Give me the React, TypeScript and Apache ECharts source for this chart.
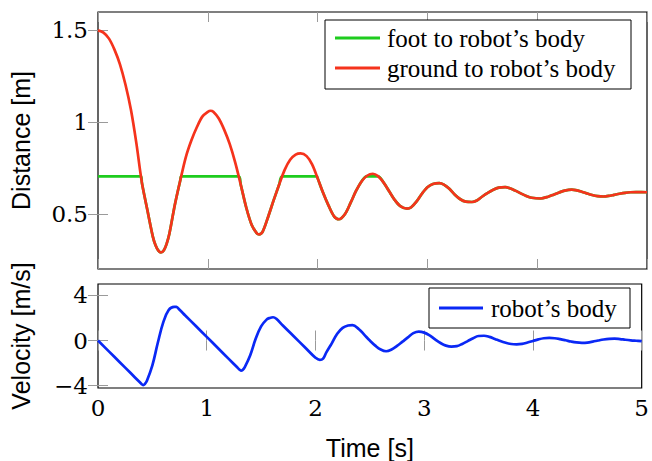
import React, { useEffect, useRef } from "react";
import * as echarts from "echarts";

const timeTicks = [0, 1, 2, 3, 4, 5];
const distanceTicks = [0.5, 1, 1.5];
const velocityTicks = [-4, 0, 4];

const groundTimes = [
  0, 0.05, 0.1, 0.15, 0.2, 0.25, 0.3, 0.35, 0.4, 0.45,
  0.5, 0.525, 0.55, 0.573, 0.6, 0.625, 0.65, 0.7, 0.75, 0.8, 0.85, 0.9, 0.95,
  1.0, 1.025, 1.05, 1.1, 1.15, 1.2, 1.25, 1.3, 1.35, 1.4, 1.45, 1.467,
  1.5, 1.55, 1.6, 1.65, 1.7, 1.75, 1.8, 1.845, 1.9, 1.95,
  2.0, 2.05, 2.1, 2.15, 2.194, 2.25, 2.3, 2.35, 2.4, 2.45,
  2.503, 2.55, 2.6, 2.65, 2.7, 2.75, 2.815, 2.85, 2.9, 2.95,
  3.0, 3.05, 3.109, 3.15, 3.2, 3.25, 3.3, 3.35, 3.406, 3.45,
  3.5, 3.55, 3.6, 3.65, 3.709, 3.75, 3.8, 3.85, 3.9, 3.95,
  4.03, 4.1, 4.15, 4.2, 4.25, 4.315, 4.35, 4.4, 4.45,
  4.5, 4.55, 4.603, 4.65, 4.7, 4.75, 4.8, 4.85, 4.9, 4.95, 5.0,
];
const groundValues = [
  1.5, 1.488, 1.455, 1.395, 1.315, 1.205, 1.067, 0.883, 0.669, 0.52,
  0.375, 0.328, 0.3, 0.29, 0.302, 0.337, 0.392, 0.55, 0.685, 0.81, 0.9, 0.972, 1.03,
  1.056, 1.062, 1.057, 1.02, 0.958, 0.88, 0.78, 0.66, 0.535, 0.44, 0.392, 0.389,
  0.404, 0.485, 0.575, 0.66, 0.74, 0.795, 0.823, 0.83, 0.815, 0.77,
  0.695, 0.615, 0.545, 0.487, 0.471, 0.5, 0.56, 0.625, 0.677, 0.708,
  0.719, 0.706, 0.672, 0.625, 0.578, 0.544, 0.529, 0.535, 0.567, 0.61,
  0.645, 0.663, 0.668, 0.66, 0.637, 0.605, 0.58, 0.567, 0.565, 0.573,
  0.595, 0.615, 0.632, 0.643, 0.646, 0.64, 0.627, 0.612, 0.598, 0.588,
  0.584, 0.594, 0.605, 0.617, 0.627, 0.632, 0.63, 0.622, 0.612,
  0.603, 0.597, 0.595, 0.598, 0.604, 0.61, 0.615, 0.618, 0.619, 0.619, 0.618,
];

const footTimes = [
  0, 0.392, 0.4, 0.45, 0.5, 0.525, 0.55, 0.573, 0.6, 0.625, 0.65, 0.7, 0.75, 0.758,
  1.281, 1.3, 1.35, 1.4, 1.45, 1.467, 1.5, 1.55, 1.6, 1.65, 1.678,
  1.993, 2.0, 2.05, 2.1, 2.15, 2.194, 2.25, 2.3, 2.35, 2.4, 2.445,
  2.551, 2.6, 2.65, 2.7, 2.75, 2.815, 2.85, 2.9, 2.95,
  3.0, 3.05, 3.109, 3.15, 3.2, 3.25, 3.3, 3.35, 3.406, 3.45,
  3.5, 3.55, 3.6, 3.65, 3.709, 3.75, 3.8, 3.85, 3.9, 3.95,
  4.03, 4.1, 4.15, 4.2, 4.25, 4.315, 4.35, 4.4, 4.45,
  4.5, 4.55, 4.603, 4.65, 4.7, 4.75, 4.8, 4.85, 4.9, 4.95, 5.0,
];
const footValues = [
  0.705, 0.705, 0.669, 0.52, 0.375, 0.328, 0.3, 0.29, 0.302, 0.337, 0.392, 0.55, 0.685, 0.705,
  0.705, 0.66, 0.535, 0.44, 0.392, 0.389, 0.404, 0.485, 0.575, 0.66, 0.705,
  0.705, 0.695, 0.615, 0.545, 0.487, 0.471, 0.5, 0.56, 0.625, 0.677, 0.705,
  0.705, 0.672, 0.625, 0.578, 0.544, 0.529, 0.535, 0.567, 0.61,
  0.645, 0.663, 0.668, 0.66, 0.637, 0.605, 0.58, 0.567, 0.565, 0.573,
  0.595, 0.615, 0.632, 0.643, 0.646, 0.64, 0.627, 0.612, 0.598, 0.588,
  0.584, 0.594, 0.605, 0.617, 0.627, 0.632, 0.63, 0.622, 0.612,
  0.603, 0.597, 0.595, 0.598, 0.604, 0.61, 0.615, 0.618, 0.619, 0.619, 0.618,
];

const velocityTimes = [
  0, 0.1, 0.2, 0.3, 0.38, 0.4, 0.415, 0.43, 0.45, 0.5, 0.55, 0.6, 0.65, 0.7, 0.72, 0.75,
  0.8, 0.9, 1.0, 1.1, 1.2, 1.28, 1.3, 1.315, 1.33, 1.35, 1.4, 1.45, 1.5, 1.55, 1.58, 1.61, 1.64,
  1.7, 1.8, 1.9, 2.0, 2.04, 2.07, 2.1, 2.15, 2.2, 2.25, 2.3, 2.34,
  2.4, 2.45, 2.5, 2.55, 2.6, 2.65, 2.7, 2.75, 2.8, 2.85, 2.9, 2.95,
  3.0, 3.05, 3.1, 3.15, 3.2, 3.25, 3.3, 3.35, 3.4, 3.45,
  3.5, 3.55, 3.6, 3.65, 3.7, 3.75, 3.8, 3.85, 3.9, 3.95,
  4.0, 4.05, 4.1, 4.15, 4.2, 4.25, 4.3, 4.35, 4.4, 4.45,
  4.5, 4.55, 4.6, 4.65, 4.7, 4.75, 4.8, 4.85, 4.9, 4.95, 5.0,
];
const velocityValues = [
  0, -0.96, -1.92, -2.88, -3.65, -3.84, -3.94, -3.85, -3.55, -2.2, -0.2, 1.6, 2.7, 2.98, 2.97, 2.72,
  2.24, 1.28, 0.32, -0.64, -1.6, -2.37, -2.56, -2.66, -2.6, -2.35, -1.3, 0.15, 1.25, 1.85, 2.0, 2.06, 1.92,
  1.33, 0.38, -0.57, -1.52, -1.72, -1.6, -1.05, -0.25, 0.6, 1.12, 1.33, 1.37,
  1.0, 0.5, 0.0, -0.45, -0.8, -0.95, -0.8, -0.48, -0.1, 0.28, 0.65, 0.79,
  0.7, 0.45, 0.1, -0.22, -0.45, -0.54, -0.5, -0.3, -0.05, 0.2,
  0.4, 0.42, 0.32, 0.14, -0.05, -0.2, -0.31, -0.34, -0.3, -0.18,
  -0.04, 0.1, 0.2, 0.23, 0.2, 0.12, 0.02, -0.09, -0.17, -0.2,
  -0.18, -0.1, 0.0, 0.09, 0.15, 0.17, 0.13, 0.07, 0.02, -0.02, -0.06,
];

const footName = "foot to robot\u2019s body";
const groundName = "ground to robot\u2019s body";
const velocityName = "robot\u2019s body";

const zip = (xs: number[], ys: number[]) => xs.map((x, i) => [x, ys[i]]);

const SERIF = "'Liberation Serif', 'DejaVu Serif', serif";
const TICKFONT = "'DejaVu Serif', serif";
const SANS = "'Liberation Sans', 'DejaVu Sans', sans-serif";
const TICK = { show: true, inside: true, length: 10, lineStyle: { color: "#9a9a9a", width: 1 } };

const GREEN = "#1ecc1e";
const RED = "#f5331c";
const BLUE = "#0a28f5";

function xAxisPair(grid: number, labels: boolean) {
  const base = {
    type: "value",
    gridIndex: grid,
    min: 0,
    max: 5,
    interval: 1,
    axisLine: { show: false },
    splitLine: { show: false },
    axisTick: { ...TICK, customValues: timeTicks },
  };
  return [
    {
      ...base,
      position: "bottom",
      axisLabel: labels
        ? { show: true, customValues: timeTicks, fontFamily: TICKFONT, fontSize: 23, color: "#000", margin: 8 }
        : { show: false },
      ...(labels
        ? {
            name: "Time [s]",
            nameLocation: "middle",
            nameGap: 47,
            nameTextStyle: { fontFamily: SANS, fontSize: 25, color: "#000" },
          }
        : {}),
    },
    { ...base, position: "top", axisLabel: { show: false } },
  ];
}

function yAxisPair(grid: number, min: number, max: number, ticks: number[], name: string) {
  const base = {
    type: "value",
    gridIndex: grid,
    min,
    max,
    axisLine: { show: false },
    splitLine: { show: false },
    axisTick: { ...TICK, customValues: ticks },
  };
  return [
    {
      ...base,
      position: "left",
      axisLabel: {
        show: true,
        customValues: ticks,
        fontFamily: TICKFONT,
        fontSize: 23,
        color: "#000",
        margin: 10,
        formatter: (v: number) => (v < 0 ? "\u2212" + Math.abs(v) : String(v)),
      },
      name,
      nameLocation: "middle",
      nameGap: 65,
      nameTextStyle: { fontFamily: SANS, fontSize: 25, color: "#000" },
    },
    { ...base, position: "right", axisLabel: { show: false } },
  ];
}

export default function App() {
  const ref = useRef<HTMLDivElement>(null);
  useEffect(() => {
    if (!ref.current) return;
    const chart = echarts.init(ref.current, undefined, { renderer: "svg" });
    const gridStyle = { show: true, borderColor: "#000", borderWidth: 1.2, backgroundColor: "transparent" };
    chart.setOption({
      animation: false,
      backgroundColor: "#fff",
      grid: [
        { left: 97, top: 12, width: 550, height: 257, ...gridStyle },
        { left: 97, top: 284, width: 550, height: 107, ...gridStyle },
      ],
      xAxis: [...xAxisPair(0, false), ...xAxisPair(1, true)],
      yAxis: [
        ...yAxisPair(0, 0.2, 1.6, distanceTicks, "Distance [m]"),
        ...yAxisPair(1, -4.2, 5, velocityTicks, "Velocity [m/s]"),
      ],
      legend: [
        {
          left: 325,
          top: 20,
          orient: "vertical",
          icon: "rect",
          itemWidth: 45,
          itemHeight: 3,
          itemGap: 0,
          padding: [3, 12, 6, 10],
          borderColor: "#000",
          borderWidth: 1,
          backgroundColor: "#fff",
          selectedMode: false,
          textStyle: { fontFamily: SERIF, fontSize: 25, lineHeight: 30, color: "#000", width: 232, padding: [0, 0, 0, 2] },
          data: [footName, groundName],
        },
        {
          left: 429,
          top: 288,
          orient: "vertical",
          icon: "rect",
          itemWidth: 44,
          itemHeight: 3,
          itemGap: 0,
          padding: [5, 12, 5, 10],
          borderColor: "#000",
          borderWidth: 1,
          backgroundColor: "#fff",
          selectedMode: false,
          textStyle: { fontFamily: SERIF, fontSize: 25, lineHeight: 30, color: "#000", width: 127, padding: [0, 0, 0, 3] },
          data: [velocityName],
        },
      ],
      series: [
        {
          name: footName,
          type: "line",
          xAxisIndex: 0,
          yAxisIndex: 0,
          data: zip(footTimes, footValues),
          symbol: "none",
          smooth: 0.3,
          lineStyle: { color: GREEN, width: 2.7 },
          itemStyle: { color: GREEN },
        },
        {
          name: groundName,
          type: "line",
          xAxisIndex: 0,
          yAxisIndex: 0,
          data: zip(groundTimes, groundValues),
          symbol: "none",
          smooth: 0.3,
          lineStyle: { color: RED, width: 2.7 },
          itemStyle: { color: RED },
        },
        {
          name: velocityName,
          type: "line",
          xAxisIndex: 2,
          yAxisIndex: 2,
          data: zip(velocityTimes, velocityValues),
          symbol: "none",
          smooth: 0.4,
          lineStyle: { color: BLUE, width: 2.7 },
          itemStyle: { color: BLUE },
        },
      ],
    });
    return () => chart.dispose();
  }, []);
  return <div ref={ref} style={{ position: "absolute", left: 0, top: 0, width: 652, height: 461 }} />;
}
